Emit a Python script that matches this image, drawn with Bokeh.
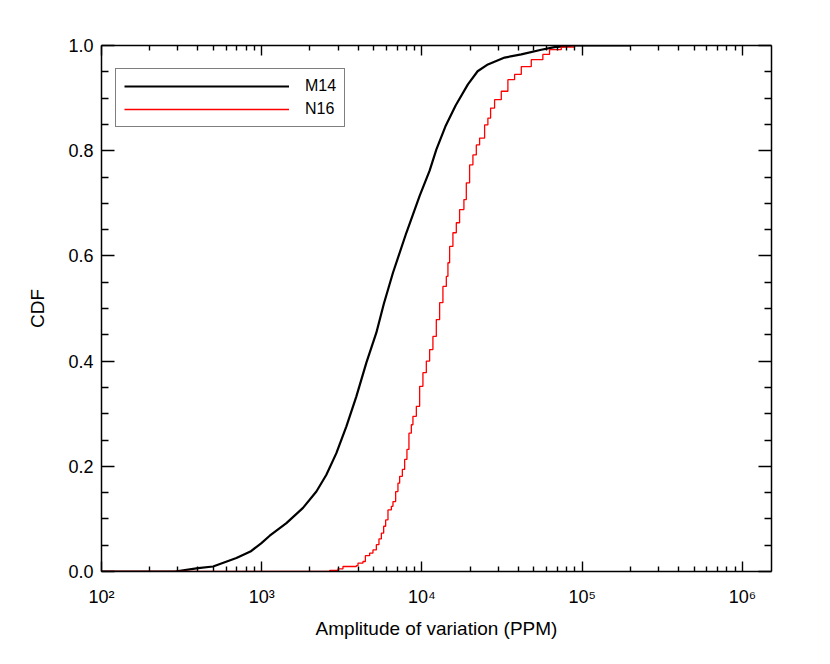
from bokeh.plotting import figure
from bokeh.models import (Range1d, FixedTicker, LogAxis, LinearAxis, CustomJSTickFormatter,
                          Legend, LegendItem)
from bokeh.embed import file_html
from bokeh.resources import INLINE

# ---- data ----
m14_ppm = [100, 287, 401, 497, 695, 850, 996, 1122, 1426, 1810, 2194, 2533, 2924, 3377, 3898,
           4501, 5194, 5785, 6595, 7995, 9676, 11170, 12296, 14100, 16230, 19360, 22260, 25800,
           32820, 41700, 55570, 67270, 89700, 200000]
m14_cdf = [0, 0, 0.0065, 0.0095, 0.0255, 0.038, 0.054, 0.068, 0.092, 0.121, 0.152, 0.184,
           0.225, 0.276, 0.333, 0.397, 0.454, 0.509, 0.568, 0.644, 0.714, 0.762, 0.802, 0.848,
           0.886, 0.926, 0.951, 0.964, 0.977, 0.983, 0.992, 0.997, 1.0, 1.0]

n16_ppm = [100, 2656, 2992, 3215, 3898, 3989, 4284, 4436, 4718, 4947, 5194, 5392, 5582,
           5770, 5938, 6138, 6445, 6595, 6855, 7084, 7260, 7547, 7800, 8062, 8297, 8588,
           8788, 9229, 9676, 10144, 10652, 11170, 11710, 12296, 12896, 13521, 14199, 14530,
           14888, 15610, 16391, 17184, 18281, 18923, 19842, 20806, 21850, 22909, 24617,
           25800, 26830, 28410, 31280, 34400, 37870, 41700, 48140, 56860, 62600, 74070, 89700]
n16_cdf = [0, 0.002, 0.005, 0.0095, 0.011, 0.016, 0.019, 0.030, 0.035, 0.041, 0.051, 0.062,
           0.073, 0.086, 0.098, 0.117, 0.124, 0.133, 0.152, 0.168, 0.181, 0.194, 0.213, 0.232,
           0.263, 0.279, 0.295, 0.314, 0.352, 0.378, 0.400, 0.422, 0.447, 0.479, 0.511, 0.542,
           0.561, 0.587, 0.618, 0.644, 0.663, 0.688, 0.707, 0.739, 0.773, 0.792, 0.811, 0.824,
           0.849, 0.862, 0.881, 0.897, 0.913, 0.935, 0.945, 0.960, 0.973, 0.983, 0.992, 0.997,
           1.0]

x_major = [1e2, 1e3, 1e4, 1e5, 1e6]
y_major = [0.0, 0.2, 0.4, 0.6, 0.8, 1.0]
y_minor = [0.05, 0.1, 0.15, 0.25, 0.3, 0.35, 0.45, 0.5, 0.55, 0.65, 0.7, 0.75, 0.85, 0.9, 0.95]
x_min, x_max = 100, 1.52e6
series_names = ["M14", "N16"]
x_title = "Amplitude of variation (PPM)"
y_title = "CDF"

FONT = "Liberation Sans"

x_minor = [k * d for d in [1e2, 1e3, 1e4, 1e5, 1e6] for k in range(2, 10) if k * d < x_max]

p = figure(x_axis_type="log", x_range=Range1d(x_min, x_max), y_range=Range1d(0, 1.0),
           frame_width=670, frame_height=526, output_backend="svg", toolbar_location=None,
           min_border_left=101, min_border_top=45, min_border_right=36, min_border_bottom=76,
           background_fill_color="white", border_fill_color="white")
p.outline_line_color = None
p.xgrid.visible = False
p.ygrid.visible = False

sup_code = """
const sup = {'0':'\\u2070','1':'\\u00b9','2':'\\u00b2','3':'\\u00b3','4':'\\u2074',
             '5':'\\u2075','6':'\\u2076','7':'\\u2077','8':'\\u2078','9':'\\u2079','-':'\\u207b'};
const e = Math.round(Math.log10(tick));
return '10' + String(e).split('').map(c => sup[c]).join('');
"""

xt = FixedTicker(ticks=x_major, minor_ticks=x_minor)
yt = FixedTicker(ticks=y_major, minor_ticks=y_minor)

def style(ax, major_len, minor_len):
    ax.axis_line_width = 1.5
    ax.axis_line_color = "black"
    ax.major_tick_line_width = 1.4
    ax.minor_tick_line_width = 1.4
    ax.major_tick_in = major_len
    ax.major_tick_out = 0
    ax.minor_tick_in = minor_len
    ax.minor_tick_out = 0
    ax.major_label_text_font = FONT
    ax.major_label_text_font_size = "18px"
    ax.major_label_text_color = "black"
    ax.axis_label_text_font = FONT
    ax.axis_label_text_font_size = "19px"
    ax.axis_label_text_font_style = "normal"
    ax.axis_label_text_color = "black"

xa = p.xaxis[0]
xa.ticker = xt
xa.formatter = CustomJSTickFormatter(code=sup_code)
xa.axis_label = x_title
xa.major_label_standoff = 15
xa.axis_label_standoff = 8
style(xa, 10, 5)

ya = p.yaxis[0]
ya.ticker = yt
ya.formatter = CustomJSTickFormatter(code="return tick.toFixed(1);")
ya.axis_label = y_title
ya.major_label_standoff = 8
ya.axis_label_standoff = 17
style(ya, 13, 7)

blank = "return '';"
top = LogAxis(ticker=FixedTicker(ticks=x_major, minor_ticks=x_minor),
              formatter=CustomJSTickFormatter(code=blank))
style(top, 10, 5)
top.major_label_standoff = 0
p.add_layout(top, "above")

right = LinearAxis(ticker=FixedTicker(ticks=y_major, minor_ticks=y_minor),
                   formatter=CustomJSTickFormatter(code=blank))
style(right, 13, 7)
right.major_label_standoff = 0
p.add_layout(right, "right")

r1 = p.line(m14_ppm, m14_cdf, line_color="black", line_width=2.2)
r2 = p.step(n16_ppm, n16_cdf, mode="after", line_color="#ff0000", line_width=1.3)

legend = Legend(items=[LegendItem(label=series_names[0], renderers=[r1]),
                       LegendItem(label=series_names[1], renderers=[r2])],
                location=(14, 444))
legend.border_line_color = "black"
legend.border_line_width = 1.5
legend.background_fill_color = "white"
legend.background_fill_alpha = 1
legend.padding = 8
legend.spacing = 5
legend.margin = 0
legend.glyph_width = 165
legend.glyph_height = 18
legend.label_height = 18
legend.label_standoff = 16
legend.label_text_font = FONT
legend.label_text_font_size = "16px"
legend.label_text_color = "black"
p.add_layout(legend, "center")

with open("out.html", "w", encoding="utf-8") as f:
    f.write(file_html(p, INLINE))
